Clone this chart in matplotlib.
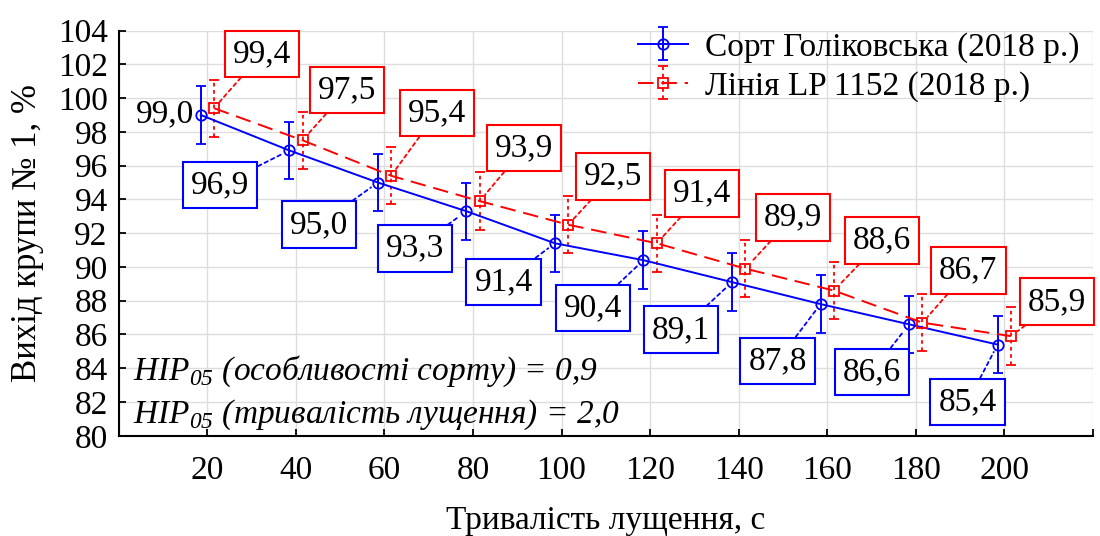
import numpy as np
import matplotlib
matplotlib.use('Agg')
import matplotlib.pyplot as plt

plt.rcParams['font.family'] = ['Liberation Serif', 'DejaVu Serif']
plt.rcParams['mathtext.fontset'] = 'custom'
plt.rcParams['mathtext.sf'] = 'Liberation Serif:italic'
plt.rcParams['mathtext.rm'] = 'Liberation Serif'

# Data
durations = [20, 40, 60, 80, 100, 120, 140, 160, 180, 200]
golikovska = [99.0, 96.9, 95.0, 93.3, 91.4, 90.4, 89.1, 87.8, 86.6, 85.4]
lp1152 = [99.4, 97.5, 95.4, 93.9, 92.5, 91.4, 89.9, 88.6, 86.7, 85.9]
golikovska_err = [1.7, 1.7, 1.7, 1.7, 1.7, 1.7, 1.7, 1.7, 1.7, 1.7]
lp1152_err = [1.7, 1.7, 1.7, 1.7, 1.7, 1.7, 1.7, 1.7, 1.7, 1.7]

# label box centres (data coords)
blue_lab_x = [None, 22.9, 45.3, 66.9, 86.9, 107.1, 127.0, 148.8, 170.1, 191.7]
blue_lab_y = [None, 94.84, 92.51, 91.09, 89.12, 87.58, 86.28, 84.44, 83.79, 82.0]
red_lab_x = [32.3, 51.6, 71.8, 91.6, 111.6, 131.8, 152.2, 172.4, 191.9, 211.9]
red_lab_y = [102.62, 100.48, 99.11, 97.04, 95.37, 94.35, 92.94, 91.57, 89.79, 87.94]

x = np.array(durations, dtype=float)
xb = x - 1.5
xr = x + 1.5

fig = plt.figure(figsize=(11, 5.36), dpi=100)
ax = fig.add_axes([0.108, 0.187, 0.8855, 0.756])

eb1 = ax.errorbar(xb, golikovska, yerr=golikovska_err, color='#0000ff', lw=1.4,
                  marker='o', ms=7.5, mfc='none', mew=1.3, capsize=3.3,
                  elinewidth=1.4, capthick=1.4, label='Сорт Голіковська (2018 р.)',
                  zorder=4)
eb2 = ax.errorbar(xr, lp1152, yerr=lp1152_err, color='#ff0000', lw=1.4,
                  ls=(0, (8, 4)), marker='s', ms=7, mfc='none', mew=1.3,
                  capsize=3.3, elinewidth=1.3, capthick=1.3,
                  label='Лінія LP 1152 (2018 р.)', zorder=4)
eb2[2][0].set_linestyle((0, (2, 2)))

box_kw = dict(boxstyle='square,pad=0.24', fc='white', lw=1.5)

for i in range(len(x)):
    ax.annotate(f'{lp1152[i]:.1f}'.replace('.', ','), xy=(xr[i], lp1152[i]),
                xytext=(red_lab_x[i], red_lab_y[i]), ha='center', va='center',
                fontsize=24,
                bbox=dict(box_kw, ec='#ff0000'),
                arrowprops=dict(arrowstyle='-', color='#ff0000', lw=1.3,
                                ls=(0, (2, 2)), shrinkA=0, shrinkB=6),
                zorder=5)
    if blue_lab_x[i] is None:
        ax.annotate(f'{golikovska[i]:.1f}'.replace('.', ','), xy=(xb[i], golikovska[i]),
                    xytext=(-5, 1), textcoords='offset points', ha='right', va='center',
                    fontsize=24, zorder=5)
    else:
        ax.annotate(f'{golikovska[i]:.1f}'.replace('.', ','), xy=(xb[i], golikovska[i]),
                    xytext=(blue_lab_x[i], blue_lab_y[i]), ha='center', va='center',
                    fontsize=24,
                    bbox=dict(box_kw, ec='#0000ff'),
                    arrowprops=dict(arrowstyle='-', color='#0000ff', lw=1.3,
                                    ls=(0, (2, 2)), shrinkA=0, shrinkB=6),
                    zorder=5)

ax.text(3.1, 83.31, r'$\mathsf{HIP}_{\mathsf{05}}$ (особливості сорту) = 0,9',
        fontsize=24, style='italic', va='baseline', ha='left')
ax.text(3.1, 80.75, r'$\mathsf{HIP}_{\mathsf{05}}$ (тривалість лущення) = 2,0',
        fontsize=24, style='italic', va='baseline', ha='left')

ax.set_xlim(0, 220)
ax.set_ylim(80, 104)
ax.set_xticks(np.arange(0, 221, 20))
ax.set_xticklabels([''] + [str(v) for v in durations] + [''])
ax.set_yticks(np.arange(80, 105, 2))
ax.tick_params(direction='in', labelsize=24, length=5, width=1.3)
ax.tick_params(axis='x', pad=14)
ax.tick_params(axis='y', pad=8)
for s in ['top', 'right']:
    ax.spines[s].set_visible(False)
for s in ['left', 'bottom']:
    ax.spines[s].set_linewidth(1.5)
ax.grid(True, color='#dddddd', lw=1)
ax.set_axisbelow(True)

ax.set_xlabel('Тривалість лущення, с', fontsize=24, labelpad=14)
ax.set_ylabel('Вихід крупи № 1, %', fontsize=25, labelpad=10)

ax.legend(loc='upper right', bbox_to_anchor=(1.0, 1.03), frameon=False,
          fontsize=24, handlelength=1.5, handletextpad=0.5, labelspacing=0.25,
          borderaxespad=0)

fig.savefig('out.png', dpi=100)
